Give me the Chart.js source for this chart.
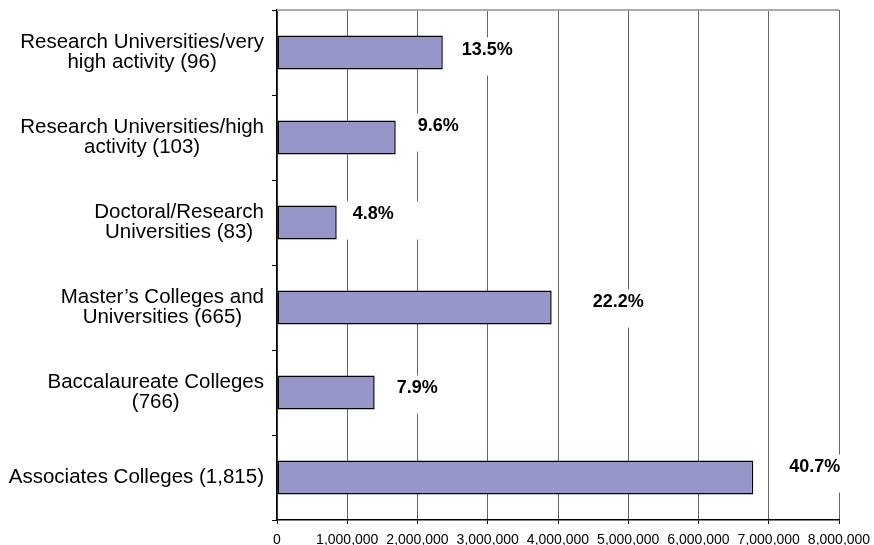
<!DOCTYPE html>
<html>
<head>
<meta charset="utf-8">
<script src="https://cdn.jsdelivr.net/npm/chart.js@4/dist/chart.umd.min.js"></script>
<style>
  html, body { margin: 0; padding: 0; background: #fff; }
  #wrap { width: 874px; height: 545px; }
</style>
</head>
<body>
<div id="wrap"><canvas id="chart"></canvas></div>
<script>
// Carnegie classes (number of institutions)
const categories = [
    ['Research Universities/very', 'high activity (96)'],
    ['Research Universities/high', 'activity (103)'],
    ['Doctoral/Research', 'Universities (83)'],
    ['Master\u2019s Colleges and', 'Universities (665)'],
    ['Baccalaureate Colleges', '(766)'],
    ['Associates Colleges (1,815)']
];
// Enrollment per class
const enrollment = [2360000, 1690000, 850000, 3910000, 1390000, 6780000];
// Share of total, printed next to each bar
const shareLabels = ['13.5%', '9.6%', '4.8%', '22.2%', '7.9%', '40.7%'];
// x axis range
const xMin = 0;
const xMax = 8000000;
const xStep = 1000000;

const FONT = '"Liberation Sans", Arial, Helvetica, sans-serif';

// percent labels on white boxes + category labels on the left
const labelPlugin = {
    id: 'shareLabels',
    beforeDatasetsDraw(chart) {
        const { ctx, chartArea } = chart;
        ctx.save();
        ctx.strokeStyle = '#aaaaaa';
        ctx.lineWidth = 2;
        ctx.beginPath();
        ctx.moveTo(chartArea.left, chartArea.top);
        ctx.lineTo(chartArea.right, chartArea.top);
        ctx.stroke();
        ctx.restore();
    },
    afterDatasetsDraw(chart, args, opts) {
        const ctx = chart.ctx;
        const meta = chart.getDatasetMeta(0);
        ctx.save();
        ctx.font = 'bold 18px ' + FONT;
        ctx.textBaseline = 'middle';
        ctx.textAlign = 'left';
        meta.data.forEach((bar, i) => {
            const [dx, dy] = opts.offsets[i];
            const x = bar.x + dx;
            const y = bar.y + dy;
            const w = ctx.measureText(shareLabels[i]).width;
            ctx.fillStyle = '#fff';
            ctx.fillRect(x - 12, y - 13, w + 38, 38);
            ctx.fillStyle = '#000';
            ctx.fillText(shareLabels[i], x, y);
        });

        // category labels: each line centred, block right aligned
        const yScale = chart.scales.y;
        ctx.font = '20.5px ' + FONT;
        ctx.textAlign = 'center';
        const right = yScale.right - 13;
        categories.forEach((lines, i) => {
            const widths = lines.map(l => ctx.measureText(l).width);
            const cx = right - Math.max(...widths) / 2;
            const cy = yScale.getPixelForValue(i);
            const lh = 20;
            lines.forEach((l, j) => {
                ctx.fillText(l, cx, cy + (j - (lines.length - 1) / 2) * lh);
            });
        });
        ctx.restore();
    }
};

const ctx = document.getElementById('chart');
new Chart(ctx, {
    type: 'bar',
    data: {
        labels: categories,
        datasets: [{
            data: enrollment,
            backgroundColor: '#9696c8',
            borderColor: '#000',
            borderWidth: 1.5,
            borderSkipped: false,
            categoryPercentage: 0.4,
            barPercentage: 1.0
        }]
    },
    options: {
        indexAxis: 'y',
        responsive: true,
        maintainAspectRatio: false,
        animation: false,
        layout: {
            padding: { top: 10, right: 35, bottom: 0, left: 0 }
        },
        plugins: {
            legend: { display: false },
            tooltip: { enabled: false },
            shareLabels: {
                offsets: [[19, -2], [22, -11], [16, -8], [41, -5], [22, -4], [36, -10]]
            }
        },
        scales: {
            x: {
                min: xMin,
                max: xMax,
                afterFit: function(scale) {
                    scale.height = 25;
                    scale.paddingLeft = 0;
                    scale.paddingRight = 0;
                },
                ticks: {
                    stepSize: xStep,
                    color: '#000',
                    padding: 8,
                    maxRotation: 0,
                    autoSkip: false,
                    font: { family: FONT, size: 14 },
                    callback: v => v.toLocaleString('en-US')
                },
                grid: {
                    color: '#666',
                    lineWidth: 1,
                    tickColor: '#000',
                    tickLength: 4
                },
                border: { color: '#000', width: 1.5 }
            },
            y: {
                afterFit: function(scale) { scale.width = 277; },
                ticks: { display: false },
                grid: {
                    offset: true,
                    drawOnChartArea: false,
                    drawTicks: true,
                    tickLength: 5,
                    color: '#000'
                },
                border: { color: '#000', width: 1.5 }
            }
        }
    },
    plugins: [labelPlugin]
});
</script>
</body>
</html>
